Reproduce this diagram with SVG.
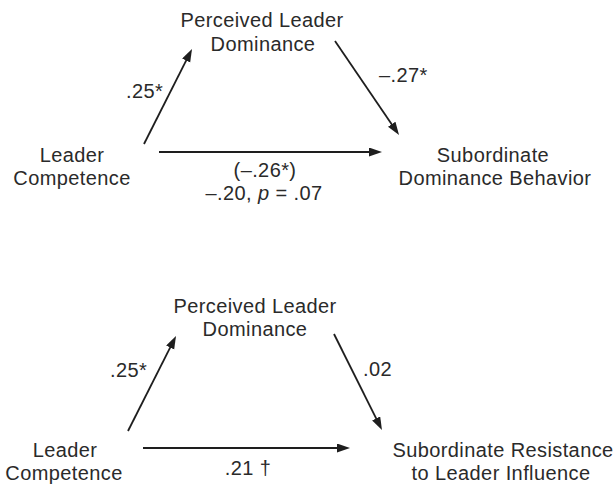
<svg xmlns="http://www.w3.org/2000/svg" width="614" height="484" viewBox="0 0 614 484">
<style>
text{font-family:"Liberation Sans",Arial,sans-serif;font-size:20px;fill:#2a2a2a;letter-spacing:0.4px}
.m{text-anchor:middle}
.c{stroke:#1e1e1e;stroke-width:1.8;fill:none;marker-end:url(#ah)}
</style>
<defs>
<marker id="ah" markerUnits="userSpaceOnUse" markerWidth="14" markerHeight="10" refX="3" refY="4.5" orient="auto">
<path d="M0,0 L13,4.5 L0,9 z" fill="#1e1e1e"/>
</marker>
</defs>
<rect width="614" height="484" fill="#ffffff"/>
<g id="connectors">
<line class="c" x1="144" y1="144" x2="187.5" y2="57.9"/>
<line class="c" x1="335" y1="41" x2="393.4" y2="126.7"/>
<line class="c" x1="159" y1="152" x2="372" y2="152"/>
<line class="c" x1="128" y1="431" x2="171.5" y2="344.9"/>
<line class="c" x1="334" y1="334" x2="377.5" y2="421.1"/>
<line class="c" x1="143" y1="448" x2="340" y2="448"/>
</g>
<g id="labels">
<text x="126" y="98">.25*</text>
<text x="379" y="82">–.27*</text>
<text class="m" x="265" y="177">(–.26*)</text>
<text class="m" x="264" y="200">–.20, <tspan font-style="italic">p</tspan> = .07</text>
<text x="110" y="377">.25*</text>
<text x="363" y="376">.02</text>
<text class="m" x="248" y="475">.21 †</text>
</g>
<g id="top-mediator">
<text class="m" x="262" y="27">Perceived Leader</text>
<text class="m" x="263" y="51">Dominance</text>
</g>
<g id="top-predictor">
<text class="m" x="72" y="162">Leader</text>
<text class="m" x="72" y="185">Competence</text>
</g>
<g id="top-outcome">
<text class="m" x="493" y="162">Subordinate</text>
<text class="m" x="495" y="185">Dominance Behavior</text>
</g>
<g id="bottom-mediator">
<text class="m" x="255" y="313">Perceived Leader</text>
<text class="m" x="255" y="336">Dominance</text>
</g>
<g id="bottom-predictor">
<text class="m" x="65" y="457">Leader</text>
<text class="m" x="64" y="480">Competence</text>
</g>
<g id="bottom-outcome">
<text class="m" x="503" y="457">Subordinate Resistance</text>
<text class="m" x="501" y="480">to Leader Influence</text>
</g>
</svg>
